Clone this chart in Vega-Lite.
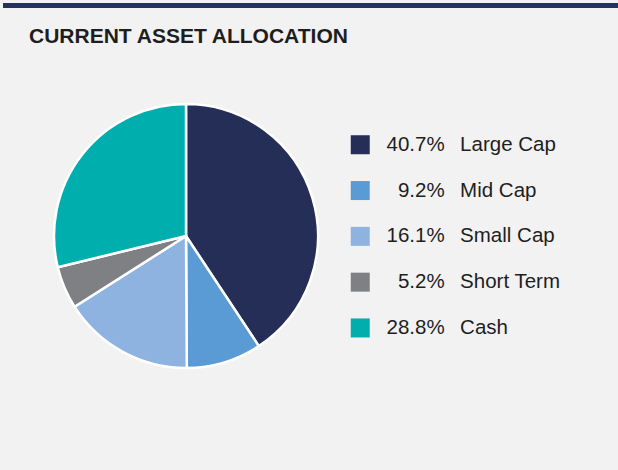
{
  "$schema": "https://vega.github.io/schema/vega-lite/v6.json",
  "background": "#f2f2f2",
  "padding": {"top": 3, "left": 3, "right": 0, "bottom": 106},
  "spacing": 17,
  "config": {
    "font": "Liberation Sans",
    "view": {"stroke": null}
  },
  "datasets": {
    "alloc": [
      {"category": "Large Cap", "value": 40.7},
      {"category": "Mid Cap", "value": 9.2},
      {"category": "Small Cap", "value": 16.1},
      {"category": "Short Term", "value": 5.2},
      {"category": "Cash", "value": 28.8}
    ]
  },
  "vconcat": [
    {
      "width": 615,
      "height": 5,
      "data": {"values": [{}]},
      "mark": {"type": "rect", "color": "#22335f"},
      "encoding": {}
    },
    {
      "width": 366,
      "height": 264,
      "title": {
        "text": "CURRENT ASSET ALLOCATION",
        "anchor": "start",
        "frame": "group",
        "font": "Liberation Sans",
        "fontSize": 21,
        "fontWeight": "bold",
        "color": "#1e1e1e",
        "baseline": "alphabetic",
        "offset": 35.4,
        "dx": 26
      },
      "data": {"name": "alloc"},
      "transform": [
        {"window": [{"op": "row_number", "as": "idx"}]},
        {"calculate": "(datum.value < 10 ? '\u200b\u00a0\u00a0' : '') + format(datum.value, '.1f') + '%\u00a0\u00a0\u2009' + datum.category", "as": "label"}
      ],
      "mark": {"type": "arc", "stroke": "white", "strokeWidth": 2.5},
      "encoding": {
        "theta": {"field": "value", "type": "quantitative", "stack": true},
        "order": {"field": "idx", "type": "quantitative"},
        "color": {
          "field": "label",
          "type": "nominal",
          "sort": {"field": "idx"},
          "scale": {"range": ["#242e57", "#5b9bd5", "#8fb3e0", "#7f8084", "#00afad"]},
          "legend": {
            "title": null,
            "orient": "none",
            "legendX": 347,
            "legendY": 131.5,
            "padding": 0,
            "symbolType": "square",
            "symbolSize": 361,
            "symbolStrokeWidth": 0,
            "symbolOpacity": 1,
            "labelFont": "Liberation Sans",
            "labelFontSize": 20.5,
            "labelColor": "#1e1e1e",
            "labelOffset": 16,
            "labelLimit": 300,
            "rowPadding": 24.8
          }
        }
      }
    }
  ]
}
